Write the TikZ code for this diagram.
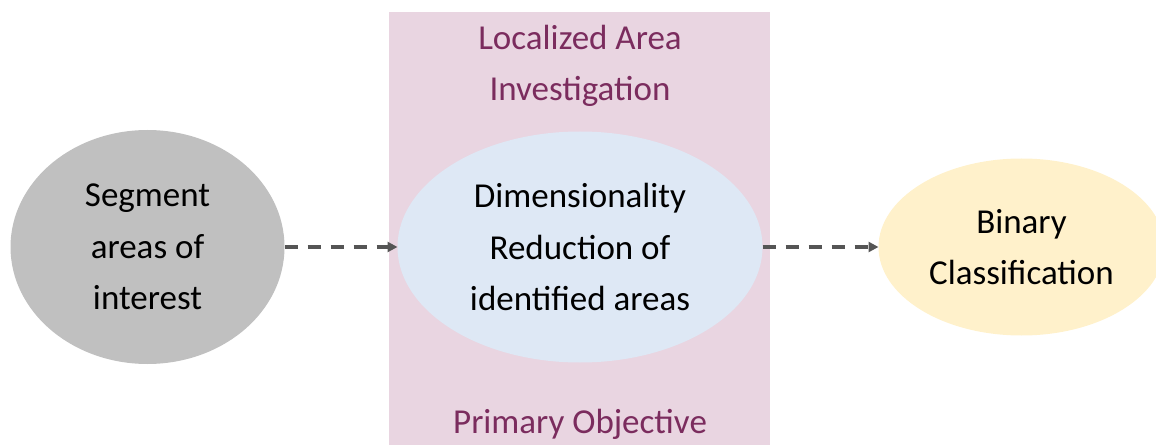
\documentclass[tikz,border=0pt]{standalone}
\usepackage{fontspec}
\setmainfont{Carlito}
\usetikzlibrary{positioning,shapes.geometric,arrows.meta}

\definecolor{boxpink}{HTML}{E9D5E1}
\definecolor{titlepurple}{HTML}{7B2C5E}
\definecolor{seggray}{HTML}{C0C0C0}
\definecolor{dimblue}{HTML}{DEE8F5}
\definecolor{binyellow}{HTML}{FFF1CB}
\definecolor{arrowgray}{HTML}{555555}

\begin{document}
\begin{tikzpicture}[x=0.5pt,y=0.5pt,
    font=\fontsize{17.5}{25.75}\selectfont,
    blob/.style={ellipse, inner sep=0pt, outer sep=0pt, align=center, text=black},
    title/.style={align=center, text=titlepurple},
    flow/.style={draw=arrowgray, line width=1.6pt, dash pattern=on 6.5pt off 5pt,
      -{Triangle[length=5pt,width=5pt]}}]
    \useasboundingbox (0,0) rectangle (1156,445);
    \clip (0,0) rectangle (1156,445);

    % investigation box
    \fill[boxpink] (389,0) rectangle (770,433);
    \node(loc) [title] at (580,379) {Localized Area\\Investigation};
    \node(obj) [title] at (580,21) {Primary Objective};

    \node(dim) [blob, fill=dimblue, minimum width=182.5pt, minimum height=115.5pt]
      at (580,198) {Dimensionality\\Reduction of\\identified areas};
    \node(seg) [blob, fill=seggray, minimum width=137pt, minimum height=117pt,
      left=56.5pt of dim] {Segment\\areas of\\interest};
    \node(bin) [blob, fill=binyellow, minimum width=143pt, minimum height=88.5pt,
      right=58pt of dim] {Binary\\Classification};

    \draw[flow] (seg) -- (dim);
    \draw[flow] (dim) -- (bin);
  \end{tikzpicture}
\end{document}
